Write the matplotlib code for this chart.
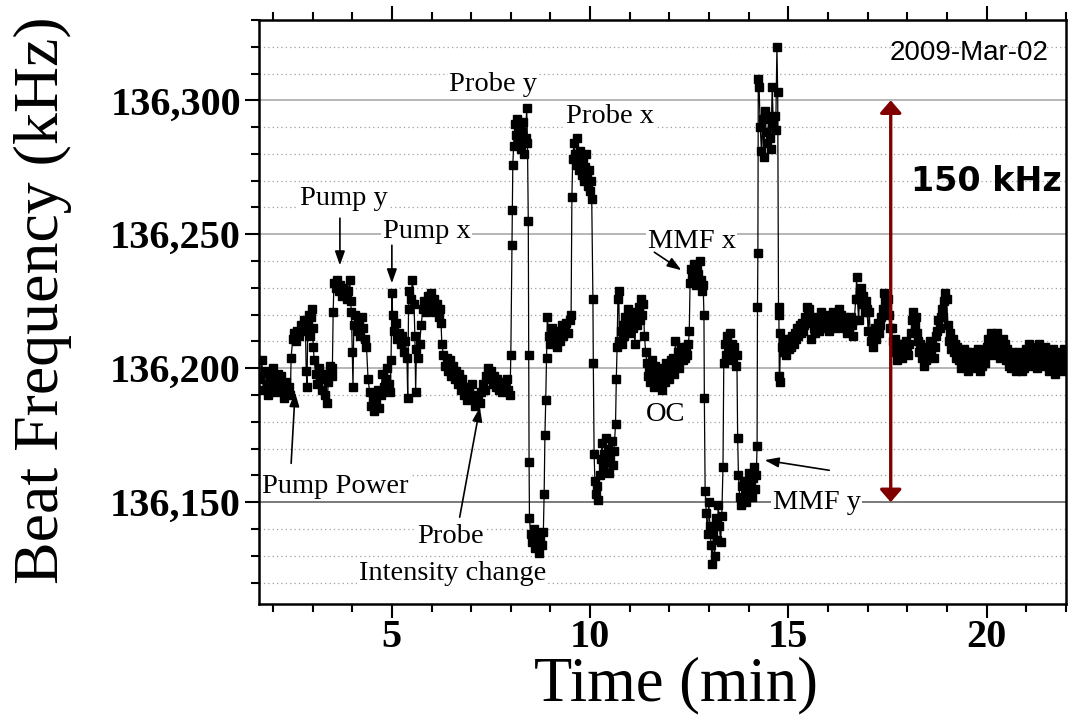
import numpy as np
import matplotlib
matplotlib.use('Agg')
from matplotlib import pyplot as plt
from matplotlib.ticker import MultipleLocator, StrMethodFormatter
from matplotlib.patches import ArrowStyle

# (time [min], beat frequency [kHz]), one list per stretch
base = [(1.68, 136196), (1.72, 136203), (1.76, 136192), (1.80, 136199), (1.84, 136194),
        (1.88, 136190), (1.92, 136197), (1.96, 136193), (2.00, 136200), (2.04, 136195),
        (2.08, 136191), (2.12, 136198), (2.16, 136194), (2.20, 136197), (2.24, 136192),
        (2.28, 136189), (2.32, 136195), (2.36, 136191), (2.40, 136193), (2.44, 136190)]

pump_power = [(2.46, 136204), (2.50, 136211), (2.54, 136213), (2.58, 136210), (2.62, 136214),
              (2.66, 136212), (2.70, 136216), (2.74, 136214), (2.78, 136218), (2.82, 136215),
              (2.84, 136199), (2.86, 136193), (2.88, 136217), (2.91, 136220), (2.94, 136212),
              (2.96, 136219), (2.98, 136222), (3.00, 136215), (3.02, 136208), (3.04, 136203),
              (3.08, 136198), (3.12, 136194), (3.16, 136200), (3.20, 136196), (3.24, 136192),
              (3.28, 136198), (3.32, 136190), (3.36, 136187), (3.40, 136195), (3.44, 136201),
              (3.48, 136197), (3.50, 136200)]

pump_y = [(3.52, 136221), (3.54, 136232), (3.58, 136230), (3.62, 136233), (3.66, 136229),
          (3.70, 136231), (3.74, 136227), (3.78, 136230), (3.82, 136228), (3.86, 136226),
          (3.90, 136229), (3.94, 136233), (3.96, 136225), (3.98, 136221), (4.00, 136206),
          (4.02, 136193), (4.04, 136216), (4.08, 136220), (4.12, 136214), (4.16, 136218),
          (4.20, 136212), (4.24, 136219), (4.28, 136215), (4.32, 136211), (4.36, 136208),
          (4.40, 136196), (4.44, 136191), (4.48, 136186), (4.52, 136189), (4.56, 136184),
          (4.60, 136187), (4.64, 136192), (4.68, 136185), (4.72, 136190), (4.76, 136198),
          (4.80, 136193), (4.84, 136196), (4.88, 136200), (4.92, 136194), (4.96, 136191)]

pump_x = [(4.98, 136203), (5.00, 136228), (5.02, 136220), (5.06, 136214), (5.10, 136217),
          (5.14, 136211), (5.18, 136213), (5.22, 136209), (5.26, 136212), (5.30, 136206),
          (5.34, 136210), (5.38, 136204), (5.40, 136189), (5.42, 136222), (5.44, 136229),
          (5.48, 136226), (5.52, 136233), (5.56, 136224), (5.58, 136212), (5.60, 136191),
          (5.62, 136207), (5.66, 136204), (5.70, 136209), (5.74, 136216), (5.78, 136222),
          (5.82, 136225), (5.86, 136221), (5.90, 136227), (5.94, 136224), (5.98, 136228),
          (6.02, 136223), (6.06, 136226), (6.10, 136221), (6.14, 136224), (6.18, 136219),
          (6.22, 136222), (6.24, 136217)]

probe_int = [(6.26, 136209), (6.30, 136205), (6.34, 136201), (6.38, 136204), (6.42, 136199),
             (6.46, 136203), (6.50, 136197), (6.54, 136201), (6.58, 136196), (6.62, 136199),
             (6.66, 136194), (6.70, 136198), (6.74, 136192), (6.78, 136196), (6.82, 136190),
             (6.86, 136193), (6.90, 136188), (6.94, 136191), (6.98, 136190), (7.02, 136194),
             (7.06, 136189), (7.10, 136186), (7.14, 136190), (7.18, 136188), (7.22, 136187),
             (7.26, 136191), (7.30, 136194), (7.34, 136192), (7.38, 136197), (7.42, 136200),
             (7.46, 136196), (7.50, 136199), (7.54, 136194), (7.58, 136197), (7.62, 136193),
             (7.66, 136196), (7.70, 136192), (7.74, 136195), (7.78, 136191), (7.82, 136194),
             (7.86, 136193), (7.90, 136196), (7.94, 136192), (7.98, 136190), (8.00, 136205)]

probe_y = [(8.03, 136246), (8.04, 136259), (8.05, 136276), (8.07, 136283), (8.10, 136291),
           (8.13, 136287), (8.16, 136293), (8.19, 136285), (8.22, 136290), (8.25, 136282),
           (8.28, 136288), (8.31, 136292), (8.34, 136280), (8.37, 136286), (8.40, 136297),
           (8.42, 136284), (8.44, 136255), (8.45, 136205), (8.46, 136165), (8.47, 136144),
           (8.50, 136138), (8.54, 136135), (8.58, 136140), (8.62, 136133), (8.66, 136137),
           (8.70, 136131), (8.74, 136136), (8.78, 136134), (8.82, 136139), (8.84, 136153),
           (8.86, 136175), (8.88, 136188), (8.90, 136204), (8.92, 136219), (8.96, 136212),
           (9.00, 136209), (9.04, 136215), (9.08, 136211), (9.12, 136213), (9.16, 136208),
           (9.20, 136214), (9.24, 136210), (9.28, 136216), (9.32, 136212), (9.36, 136214),
           (9.40, 136217), (9.44, 136213), (9.48, 136218), (9.52, 136220)]

probe_x = [(9.54, 136264), (9.56, 136278), (9.59, 136284), (9.61, 136280), (9.64, 136276),
           (9.66, 136286), (9.69, 136279), (9.72, 136274), (9.74, 136281), (9.77, 136277),
           (9.79, 136272), (9.82, 136278), (9.84, 136270), (9.87, 136275), (9.90, 136280),
           (9.92, 136272), (9.95, 136268), (9.97, 136274), (10.00, 136266), (10.02, 136270),
           (10.04, 136263), (10.07, 136226), (10.08, 136202), (10.10, 136168), (10.12, 136158),
           (10.15, 136153), (10.18, 136156), (10.21, 136151), (10.24, 136160), (10.27, 136166),
           (10.30, 136172), (10.33, 136163), (10.36, 136168), (10.39, 136174), (10.42, 136165),
           (10.45, 136170), (10.48, 136161), (10.51, 136167), (10.54, 136173), (10.57, 136164),
           (10.60, 136169), (10.64, 136179), (10.66, 136196), (10.68, 136208), (10.70, 136226),
           (10.72, 136229)]

oc = [(10.74, 136210), (10.77, 136214), (10.80, 136209), (10.83, 136216), (10.86, 136212),
      (10.89, 136219), (10.92, 136214), (10.95, 136222), (10.98, 136217), (11.01, 136213),
      (11.04, 136220), (11.07, 136215), (11.10, 136218), (11.13, 136209), (11.16, 136221),
      (11.19, 136216), (11.22, 136223), (11.25, 136218), (11.28, 136226), (11.31, 136220),
      (11.34, 136224), (11.37, 136212), (11.40, 136206), (11.43, 136202), (11.46, 136197),
      (11.49, 136200), (11.52, 136195), (11.55, 136203), (11.58, 136198), (11.61, 136193),
      (11.64, 136201), (11.67, 136196), (11.70, 136199), (11.73, 136194), (11.76, 136200),
      (11.79, 136197), (11.82, 136192), (11.85, 136199), (11.88, 136195), (11.91, 136202),
      (11.94, 136197), (11.97, 136201), (12.00, 136196), (12.03, 136203), (12.06, 136199),
      (12.09, 136204), (12.12, 136198), (12.15, 136210), (12.18, 136202), (12.21, 136206),
      (12.24, 136200), (12.27, 136205), (12.30, 136208), (12.33, 136203), (12.36, 136207),
      (12.39, 136204), (12.42, 136208), (12.45, 136205), (12.48, 136209)]

mmf_x = [(12.50, 136214), (12.52, 136232), (12.55, 136237), (12.58, 136234), (12.61, 136239),
         (12.64, 136236), (12.67, 136231), (12.70, 136238), (12.73, 136235), (12.76, 136240),
         (12.79, 136233), (12.82, 136229), (12.85, 136231), (12.87, 136220), (12.88, 136189),
         (12.90, 136154), (12.93, 136146), (12.96, 136138), (12.99, 136150), (13.02, 136141),
         (13.05, 136134), (13.08, 136127), (13.11, 136139), (13.14, 136130), (13.17, 136144),
         (13.20, 136136), (13.23, 136149), (13.26, 136141), (13.29, 136135), (13.32, 136145)]

mmf_y = [(13.35, 136163), (13.37, 136202), (13.40, 136209), (13.43, 136205), (13.46, 136212),
         (13.49, 136207), (13.52, 136213), (13.55, 136204), (13.58, 136209), (13.61, 136203),
         (13.64, 136208), (13.67, 136201), (13.70, 136205), (13.72, 136174), (13.74, 136160),
         (13.77, 136152), (13.80, 136149), (13.83, 136156), (13.86, 136151), (13.89, 136158),
         (13.92, 136150), (13.95, 136155), (13.98, 136153), (14.01, 136161), (14.04, 136157),
         (14.07, 136152), (14.10, 136159), (14.13, 136163), (14.16, 136155), (14.19, 136160),
         (14.21, 136171), (14.22, 136223), (14.23, 136243), (14.24, 136308), (14.26, 136305),
         (14.29, 136290), (14.32, 136281), (14.35, 136293), (14.38, 136279), (14.41, 136296),
         (14.44, 136288), (14.47, 136284), (14.50, 136294), (14.53, 136286), (14.56, 136282),
         (14.59, 136305), (14.62, 136291), (14.65, 136294), (14.68, 136289), (14.71, 136320),
         (14.73, 136303), (14.75, 136223), (14.76, 136220), (14.77, 136197), (14.78, 136195)]

tail = [(14.80, 136213), (14.83, 136208), (14.86, 136211), (14.89, 136206), (14.92, 136210),
        (14.95, 136205), (14.98, 136209), (15.01, 136207), (15.04, 136211), (15.07, 136208),
        (15.10, 136212), (15.13, 136209), (15.16, 136213), (15.19, 136211), (15.22, 136215),
        (15.25, 136212), (15.28, 136216), (15.31, 136213), (15.34, 136217), (15.37, 136214),
        (15.40, 136216), (15.43, 136219), (15.46, 136223), (15.49, 136220), (15.52, 136222),
        (15.55, 136217), (15.58, 136211), (15.61, 136218), (15.64, 136215), (15.67, 136213),
        (15.70, 136219), (15.73, 136216), (15.76, 136214), (15.79, 136218), (15.82, 136221),
        (15.85, 136217), (15.88, 136219), (15.91, 136215), (15.94, 136220), (15.97, 136216),
        (16.00, 136218), (16.03, 136214), (16.06, 136219), (16.09, 136216), (16.12, 136221),
        (16.15, 136217), (16.18, 136220), (16.21, 136215), (16.24, 136218), (16.27, 136222),
        (16.30, 136217), (16.33, 136220), (16.36, 136216), (16.39, 136219), (16.42, 136215),
        (16.45, 136218), (16.48, 136213), (16.51, 136217), (16.54, 136214), (16.57, 136219),
        (16.60, 136216), (16.63, 136212), (16.66, 136218), (16.70, 136226), (16.72, 136234),
        (16.74, 136226), (16.77, 136218), (16.80, 136228), (16.83, 136230), (16.86, 136224),
        (16.89, 136227), (16.92, 136221), (16.95, 136225), (16.98, 136222), (17.01, 136214),
        (17.04, 136221), (17.07, 136210), (17.10, 136213), (17.13, 136208), (17.16, 136212),
        (17.19, 136215), (17.22, 136211), (17.25, 136217), (17.28, 136213), (17.31, 136216),
        (17.34, 136219), (17.38, 136222), (17.41, 136228), (17.44, 136225), (17.47, 136222),
        (17.50, 136226), (17.53, 136220), (17.56, 136215), (17.60, 136215), (17.63, 136210),
        (17.66, 136206), (17.69, 136211), (17.72, 136207), (17.75, 136203), (17.78, 136209),
        (17.81, 136205), (17.84, 136208), (17.87, 136204), (17.90, 136209), (17.93, 136206),
        (17.96, 136210), (17.99, 136207), (18.02, 136205), (18.05, 136209), (18.09, 136213),
        (18.12, 136218), (18.15, 136221), (18.18, 136216), (18.21, 136219), (18.24, 136213),
        (18.27, 136210), (18.30, 136206), (18.33, 136209), (18.36, 136204), (18.39, 136208),
        (18.42, 136201), (18.45, 136206), (18.48, 136203), (18.51, 136208), (18.54, 136205),
        (18.57, 136210), (18.60, 136206), (18.63, 136209), (18.66, 136204), (18.69, 136208),
        (18.72, 136212), (18.75, 136214), (18.78, 136218), (18.81, 136215), (18.84, 136219),
        (18.87, 136222), (18.90, 136219), (18.93, 136225), (18.96, 136228), (18.99, 136226),
        (19.02, 136216), (19.05, 136210), (19.08, 136213), (19.11, 136207), (19.14, 136211),
        (19.17, 136206), (19.20, 136209), (19.23, 136204), (19.26, 136208), (19.29, 136203),
        (19.32, 136206), (19.35, 136200), (19.38, 136205), (19.41, 136201), (19.44, 136207),
        (19.47, 136202), (19.50, 136206), (19.53, 136199), (19.56, 136204), (19.59, 136201),
        (19.62, 136206), (19.65, 136203), (19.68, 136200), (19.71, 136205), (19.74, 136202),
        (19.77, 136207), (19.80, 136203), (19.83, 136199), (19.86, 136204), (19.89, 136201),
        (19.92, 136206), (19.95, 136202), (19.98, 136205), (20.01, 136208), (20.04, 136211),
        (20.07, 136206), (20.10, 136213), (20.13, 136208), (20.16, 136211), (20.19, 136205),
        (20.22, 136209), (20.25, 136213), (20.28, 136207), (20.31, 136210), (20.34, 136204),
        (20.37, 136208), (20.40, 136211), (20.43, 136206), (20.46, 136209), (20.49, 136203),
        (20.52, 136207), (20.55, 136201), (20.58, 136205), (20.61, 136200), (20.64, 136206),
        (20.67, 136202), (20.70, 136205), (20.73, 136199), (20.76, 136204), (20.79, 136201),
        (20.82, 136206), (20.85, 136202), (20.88, 136199), (20.91, 136204), (20.94, 136200),
        (20.97, 136203), (21.00, 136207), (21.03, 136202), (21.06, 136209), (21.09, 136204),
        (21.12, 136201), (21.15, 136206), (21.18, 136203), (21.21, 136208), (21.24, 136205),
        (21.27, 136200), (21.30, 136204), (21.33, 136209), (21.36, 136203), (21.39, 136206),
        (21.42, 136201), (21.45, 136205), (21.48, 136208), (21.51, 136202), (21.54, 136206),
        (21.57, 136199), (21.60, 136204), (21.63, 136201), (21.66, 136207), (21.69, 136203),
        (21.72, 136198), (21.75, 136204), (21.78, 136200), (21.81, 136205), (21.84, 136202),
        (21.87, 136206), (21.90, 136199), (21.93, 136203), (21.96, 136207), (21.99, 136201)]

segments = [base, pump_power, pump_y, pump_x, probe_int, probe_y, probe_x, oc, mmf_x, mmf_y, tail]
t, f = np.array([p for s in segments for p in s]).T

serif = 'Liberation Serif'

fig = plt.figure(figsize=(10.69, 7.21), dpi=100)
ax = fig.add_axes([0.2423, 0.1623, 0.7549, 0.8100])

ax.plot(t, f, '-', color='black', lw=0.9, marker='s', ms=5.8, mfc='black', mec='black', zorder=3)

ax.set_xlim(1.65, 22.0)
ax.set_ylim(136112, 136330)
ax.xaxis.set_major_locator(MultipleLocator(5))
ax.xaxis.set_minor_locator(MultipleLocator(1))
ax.yaxis.set_major_locator(MultipleLocator(50))
ax.yaxis.set_minor_locator(MultipleLocator(10))
ax.yaxis.set_major_formatter(StrMethodFormatter('{x:,.0f}'))

ax.set_axisbelow(True)
ax.grid(which='major', axis='y', color='#b0b0b0', lw=1.3, ls='-')
ax.grid(which='minor', axis='y', color='#a0a0a0', lw=0.9, ls=(0, (1, 2.5)))
for gl, v in zip(ax.get_ygridlines(), ax.get_yticks()):
    if abs(v - 136150) < 1:
        gl.set_color('#707070')

for s in ax.spines.values():
    s.set_linewidth(1.8)
ax.tick_params(which='both', direction='out', top=True, right=False, width=1.5)
ax.tick_params(which='major', length=10, pad=3)
ax.tick_params(which='minor', length=5.5)
ax.tick_params(axis='x', which='major', pad=1)
for lab in ax.get_xticklabels() + ax.get_yticklabels():
    lab.set_fontfamily(serif)
    lab.set_fontweight('bold')
    lab.set_fontsize(29)

ax.set_xlabel('Time (min)', fontsize=45, family=serif)
ax.xaxis.set_label_coords(0.517, -0.09)
ax.set_ylabel('Beat Frequency (kHz)', fontsize=46, family=serif)
ax.yaxis.set_label_coords(-0.232, 0.52)

# annotations
box = dict(fc='white', ec='none', pad=1)
notes = [('Pump Power', 1.73, 136153.4), ('Pump y', 2.68, 136260.8), ('Pump x', 4.77, 136248.5),
         ('Probe y', 6.44, 136303.5), ('Probe x', 9.38, 136291.4), ('MMF x', 11.45, 136244.9),
         ('OC', 11.40, 136180.3), ('MMF y', 14.60, 136147.4), ('Probe', 5.63, 136134.7),
         ('Intensity change', 4.17, 136120.9)]
for txt, x, y in notes:
    ax.text(x, y, txt, fontsize=20.5, family=serif, ha='left', va='baseline', bbox=box, zorder=4)

arrows = [((3.69, 136256.0), (3.69, 136238.4)), ((5.00, 136245.9), (5.00, 136231.7)),
          ((2.46, 136164.5), (2.56, 136191.0)), ((6.71, 136144.4), (7.22, 136185.4)),
          ((11.62, 136243.3), (12.30, 136236.6)), ((16.03, 136161.9), (14.40, 136165.7))]
head = ArrowStyle('-|>', head_length=0.85, head_width=0.3)
for tail_pt, tip in arrows:
    ax.annotate('', xy=tip, xytext=tail_pt,
                arrowprops=dict(arrowstyle=head, mutation_scale=10, color='black', lw=1.2,
                                shrinkA=0, shrinkB=0), zorder=5)

red = ArrowStyle('<|-|>', head_length=0.75, head_width=0.65)
ax.annotate('', xy=(17.58, 136150), xytext=(17.58, 136300),
            arrowprops=dict(arrowstyle=red, mutation_scale=10, color='#800000', lw=2.4,
                            shrinkA=0, shrinkB=0), zorder=5)
ax.text(21.90, 136266.2, '150 kHz', fontsize=24, family='DejaVu Sans', fontweight='bold',
        ha='right', va='baseline', zorder=4)
ax.text(21.57, 136315.2, '2009-Mar-02', fontsize=20, family='Liberation Sans',
        ha='right', va='baseline', zorder=4)

fig.savefig('out.png', dpi=100)
